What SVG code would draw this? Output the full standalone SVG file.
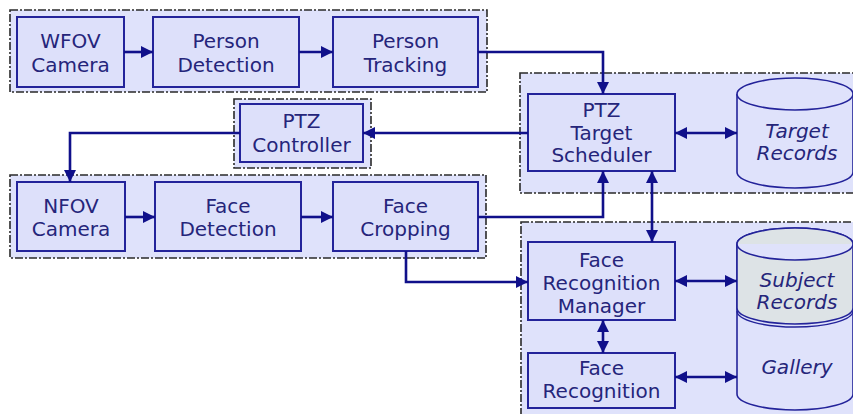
<svg xmlns="http://www.w3.org/2000/svg" width="853" height="414" viewBox="0 0 853 414">
<defs>
<marker id="ah" markerUnits="userSpaceOnUse" markerWidth="12" markerHeight="12" viewBox="0 0 12 12" refX="12" refY="6" orient="auto-start-reverse">
<path d="M0,0 L12,6 L0,12 Z" fill="#10108a"/>
</marker>
<style>
.grp{fill:#dfe2fb;stroke:#2a2a2a;stroke-width:1.6;stroke-dasharray:8 2 2 2}
.box{fill:#dde0fa;stroke:#23239a;stroke-width:2}
.t{font-family:"DejaVu Sans",Verdana,sans-serif;font-size:20px;fill:#25257a;text-anchor:middle}
.it{font-style:italic}
.c{fill:none;stroke:#10108a;stroke-width:2.6}
.cyl{fill:#dfe2fb;stroke:#23239a;stroke-width:1.6}
</style>
</defs>
<rect width="853" height="414" fill="#ffffff"/>
<!-- groups -->
<rect class="grp" x="10" y="10" width="477" height="82"/>
<rect class="grp" x="234" y="99" width="137" height="69"/>
<rect class="grp" x="10" y="175" width="476" height="83"/>
<rect class="grp" x="520" y="73" width="345" height="120"/>
<rect class="grp" x="521" y="222" width="345" height="200"/>

<g id="wfov"><rect class="box" x="17" y="17" width="107" height="70"/><text class="t" x="70.5" y="48">WFOV</text><text class="t" x="70.5" y="72">Camera</text></g>
<g id="pdet"><rect class="box" x="153" y="17" width="146" height="70"/><text class="t" x="226" y="48">Person</text><text class="t" x="226" y="72">Detection</text></g>
<g id="ptrk"><rect class="box" x="333" y="17" width="145" height="70"/><text class="t" x="405.5" y="48">Person</text><text class="t" x="405.5" y="72">Tracking</text></g>
<g id="ptzc"><rect class="box" x="240" y="104" width="123" height="58"/><text class="t" x="301.5" y="128">PTZ</text><text class="t" x="301.5" y="152">Controller</text></g>
<g id="nfov"><rect class="box" x="17" y="182" width="108" height="69"/><text class="t" x="71" y="213">NFOV</text><text class="t" x="71" y="236">Camera</text></g>
<g id="fdet"><rect class="box" x="155" y="182" width="146" height="69"/><text class="t" x="228" y="213">Face</text><text class="t" x="228" y="236">Detection</text></g>
<g id="fcrop"><rect class="box" x="333" y="182" width="145" height="69"/><text class="t" x="405.5" y="213">Face</text><text class="t" x="405.5" y="236">Cropping</text></g>
<g id="sched"><rect class="box" x="528" y="94" width="147" height="77"/><text class="t" x="601.5" y="117">PTZ</text><text class="t" x="601.5" y="140">Target</text><text class="t" x="601.5" y="162">Scheduler</text></g>
<g id="frm"><rect class="box" x="528" y="242" width="147" height="78"/><text class="t" x="601.5" y="267">Face</text><text class="t" x="601.5" y="290">Recognition</text><text class="t" x="601.5" y="313">Manager</text></g>
<g id="fr"><rect class="box" x="528" y="353" width="147" height="55"/><text class="t" x="601.5" y="375">Face</text><text class="t" x="601.5" y="398">Recognition</text></g>

<g id="target">
<path class="cyl" d="M737,94 A58,16 0 0 1 853,94 V172 A58,16 0 0 1 737,172 Z"/>
<path class="cyl" d="M737,94 A58,16 0 0 0 853,94"/>
<text class="t it" x="797" y="138">Target</text><text class="t it" x="797" y="160">Records</text>
</g>
<g id="subject">
<path class="cyl" d="M737,244 A58,16 0 0 1 853,244 V394 A58,16 0 0 1 737,394 Z"/>
<path d="M737,244 A58,16 0 0 1 853,244 V308 A58,16 0 0 1 737,308 Z" fill="#dde3e6" stroke="#23239a" stroke-width="1.6"/>
<path class="cyl" d="M737,244 A58,16 0 0 0 853,244"/>
<path d="M737,311 A58,16 0 0 0 853,311" fill="none" stroke="#23239a" stroke-width="1.4"/>
<text class="t it" x="797" y="287">Subject</text><text class="t it" x="797" y="309">Records</text>
<text class="t it" x="797" y="374">Gallery</text>
</g>

<g id="connectors">
<path class="c" d="M124,52 H153" marker-end="url(#ah)"/>
<path class="c" d="M299,52 H333" marker-end="url(#ah)"/>
<path class="c" d="M478,52 H603 V94" marker-end="url(#ah)"/>
<path class="c" d="M528,133 H363" marker-end="url(#ah)"/>
<path class="c" d="M240,133 H70 V182" marker-end="url(#ah)"/>
<path class="c" d="M125,217 H155" marker-end="url(#ah)"/>
<path class="c" d="M301,217 H333" marker-end="url(#ah)"/>
<path class="c" d="M478,217 H603 V171" marker-end="url(#ah)"/>
<path class="c" d="M652,171 V242" marker-start="url(#ah)" marker-end="url(#ah)"/>
<path class="c" d="M406,251 V282 H528" marker-end="url(#ah)"/>
<path class="c" d="M675,133 H737" marker-start="url(#ah)" marker-end="url(#ah)"/>
<path class="c" d="M675,281 H737" marker-start="url(#ah)" marker-end="url(#ah)"/>
<path class="c" d="M603,320 V353" marker-start="url(#ah)" marker-end="url(#ah)"/>
<path class="c" d="M675,377 H737" marker-start="url(#ah)" marker-end="url(#ah)"/>
</g>
</svg>
